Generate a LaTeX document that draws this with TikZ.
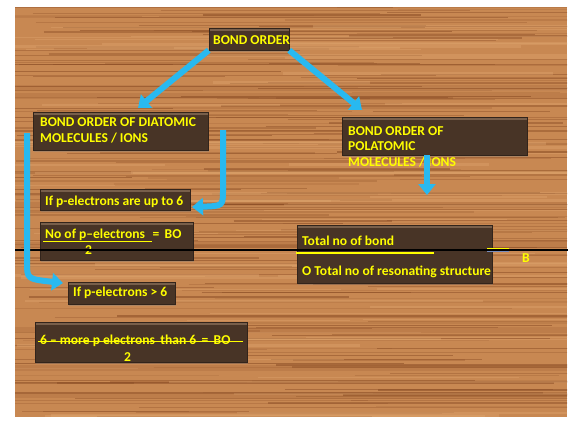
\documentclass[tikz,border=0pt]{standalone}
\usepackage{fontspec}
\setmainfont{Carlito}
\usetikzlibrary{arrows.meta,shadows}
\definecolor{wood}{RGB}{200,136,82}
\definecolor{woodd}{RGB}{140,78,38}
\definecolor{woodl}{RGB}{226,170,115}
\definecolor{boxc}{RGB}{72,52,38}
\definecolor{boxtop}{RGB}{120,95,75}
\definecolor{arrc}{RGB}{40,185,240}
\definecolor{txty}{RGB}{255,255,0}
\definecolor{lineblue}{RGB}{120,140,190}
\tikzset{
  panel/.style={rectangle, fill=boxc, draw=boxc!70!black, line width=0.5bp, inner sep=0pt,
    drop shadow={opacity=0.35, shadow xshift=1.2bp, shadow yshift=-1.5bp},
    path picture={\fill[boxtop] (path picture bounding box.north west) rectangle ([yshift=-3bp]path picture bounding box.north east);}},
  ytext/.style={text=txty, font=\bfseries\fontsize{13.6}{15}\selectfont, inner sep=0pt, anchor=west},
  bigarrow/.style={draw=arrc, line width=6bp, -{Triangle[width=17bp,length=11bp]}},
}
\begin{document}
\begin{tikzpicture}[x=1bp,y=-1bp]
\useasboundingbox (0,0) rectangle (582,422);
\fill[white] (0,0) rectangle (582,422);
% wood background
\fill[wood] (15,7) rectangle (567,417);
\begin{scope}
\clip (15,7) rectangle (567,417);
\pgfmathsetseed{11}
\foreach \i in {1,...,240}{
  \pgfmathsetmacro\yy{7+410*rnd}
  \pgfmathsetmacro\xa{-100+500*rnd}
  \pgfmathsetmacro\len{150+450*rnd}
  \pgfmathsetmacro\op{0.15+0.45*rnd}
  \pgfmathsetmacro\lw{0.4+1.4*rnd}
  \draw[woodd, opacity=\op, line width=\lw bp] (\xa,\yy) -- (\xa+\len,\yy);
}
\foreach \i in {1,...,70}{
  \pgfmathsetmacro\yy{7+410*rnd}
  \pgfmathsetmacro\xa{-100+500*rnd}
  \pgfmathsetmacro\len{150+450*rnd}
  \pgfmathsetmacro\lw{0.8+2*rnd}
  \draw[woodl, opacity=0.35, line width=\lw bp] (\xa,\yy) -- (\xa+\len,\yy);
}
\foreach \yy in {88,96,205,245,330,368,395}{
  \fill[woodd, opacity=0.18] (15,\yy-3) rectangle (567,\yy+3);
}
\end{scope}

% panels
\node[panel, minimum width=80bp, minimum height=22bp] (bo) at (249,39) {};
\node[panel, minimum width=175bp, minimum height=38bp] (dia) at (120.5,131) {};
\node[panel, minimum width=185bp, minimum height=38bp] (poly) at (434.5,136) {};
\node[panel, minimum width=150bp, minimum height=21bp] (up6) at (115,199.5) {};
\node[panel, minimum width=153bp, minimum height=38bp] (frac) at (116.5,241) {};
\node[panel, minimum width=107bp, minimum height=22bp] (gt6) at (121.5,293) {};
\node[panel, minimum width=212bp, minimum height=40bp] (more) at (141,342) {};
\node[panel, minimum width=195bp, minimum height=58bp] (tot) at (394.5,254) {};

% texts
\node[ytext] (tbo) at (213,40) {BOND ORDER};
\node[ytext] (tdia1) at (40,122) {BOND ORDER OF DIATOMIC};
\node[ytext] (tdia2) at (40,138) {MOLECULES / IONS};
\node[ytext] (tpoly1) at (348,131) {BOND ORDER OF};
\node[ytext] (tpoly2) at (348,146) {POLATOMIC};
\node[ytext] (tpoly3) at (348,162) {MOLECULES / IONS};
\node[ytext] (tup6) at (45,202) {If p-electrons are up to 6};
\node[ytext] (tfrac) at (45,235) {No of p--electrons\,\, =\, BO};
\node[ytext] (tfrac2) at (85,250) {2};
\node[ytext] (tgt6) at (73,293) {If p-electrons > 6};
\node[ytext] (tmore) at (40,341) {6 -- more p electrons\, than 6\, =\, BO};
\node[ytext] (tmore2) at (124,357) {2};
\node[ytext] (ttot1) at (302,241) {Total no of bond};
\node[ytext] (ttot2) at (302,272) {O Total no of resonating structure};
\node[ytext] (tb) at (522,258) {B};

% yellow rules
\draw[txty, line width=0.9bp] (43,241) -- (152,241);
\draw[txty, line width=0.9bp] (38,341) -- (243,341);
\draw[txty, line width=1.2bp] (296,253) -- (434,253);

% black line
\draw[black, line width=1.3bp] (15,250) -- (568,250);
\draw[txty, line width=0.8bp] (487,248) -- (509,248);
\draw[lineblue, line width=0.8bp] (487,251.5) -- (509,251.5);

% arrows
\coordinate (diatip) at (138,108);
\coordinate (polytip) at (362,110);
\coordinate (polydown) at (427,195);
\coordinate (lstart) at (27,133);
\coordinate (gt6tip) at (63,283);
\coordinate (rstart) at (223,130);
\coordinate (up6tip) at (192,207);
\draw[bigarrow] (bo.south west) -- (diatip);
\draw[bigarrow] (bo.south east) -- (polytip);
\draw[bigarrow] (poly.south -| polydown) -- (polydown);
\draw[bigarrow] (lstart) -- (27,262) .. controls (27,279) .. (gt6tip);
\draw[bigarrow] (rstart) -- (223,190) .. controls (223,206) .. (up6tip);
\end{tikzpicture}
\end{document}
